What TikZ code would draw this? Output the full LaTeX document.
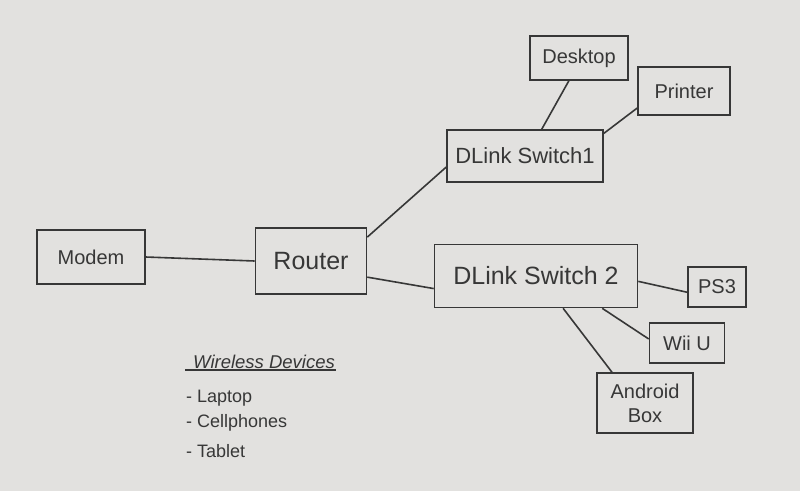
\documentclass[tikz,border=0pt]{standalone}
\usepackage{fontspec}
\setmainfont{Liberation Sans}
\usepackage{tikz}
\usetikzlibrary{positioning}

\definecolor{paper}{RGB}{226,225,223}
\definecolor{pencil}{RGB}{55,55,55}

\begin{document}
\begin{tikzpicture}[
    x=1pt, y=-1pt,
    device/.style={rectangle, draw=pencil, line width=1.6pt, text=pencil, inner sep=0pt, font=\fontsize{20}{24}\selectfont},
    hub/.style={device, font=\fontsize{25}{29}\selectfont},
    cable/.style={draw=pencil, line width=1.6pt},
    listitem/.style={anchor=west, text=pencil, inner sep=1pt, font=\fontsize{18}{22}\selectfont}
]

\fill[paper] (0,0) rectangle (800,491);
\useasboundingbox (0,0) rectangle (800,491);

\node[device, minimum width=108pt, minimum height=54pt] (modem) at (91, 257) {Modem};
\node[hub, minimum width=111pt, minimum height=66pt] (router) at (311, 261) {Router};

\node[device, font=\fontsize{22}{26}\selectfont, minimum width=156pt, minimum height=52pt] (switchone) at (525, 156) {DLink Switch1};
\node[device, minimum width=98pt, minimum height=44pt] (desktop) at (579, 58) {Desktop};
\node[device, minimum width=92pt, minimum height=48pt] (printer) at (684, 91) {Printer};

\node[hub, minimum width=203pt, minimum height=63pt] (switchtwo) at (536, 276) {DLink Switch 2};
\node[device, minimum width=58pt, minimum height=40pt] (psthree) at (717, 287) {PS3};
\node[device, minimum width=75pt, minimum height=40pt] (wiiu) at (687, 343) {Wii U};
\node[device, minimum width=96pt, minimum height=60pt, align=center] (android) at (645, 403) {Android\\Box};

\draw[cable] (modem.east) -- (router.west);
\draw[cable] (router.23) -- (switchone.188);
\draw[cable] (router.-16) -- (switchtwo.187);

\draw[cable] (switchone.58) -- (desktop.246);
\draw[cable] (switchone.16) -- (printer.200);

\draw[cable] (switchtwo.-3) -- (psthree.190);
\draw[cable] (switchtwo.-26) -- (wiiu.174);
\draw[cable] (switchtwo.-50) -- (android.137);

% wireless list
\node[listitem, font=\fontsize{18.5}{22}\selectfont\itshape] (wireless) at (192, 362) {Wireless Devices};
\draw[cable, line width=1.3pt] ([xshift=-7pt]wireless.south west) -- (wireless.south east);
\node[listitem] (laptop) at (185, 398) {- Laptop};
\node[listitem] (cellphones) at (185, 423) {- Cellphones};
\node[listitem] (tablet) at (185, 451) {- Tablet};

\end{tikzpicture}
\end{document}
